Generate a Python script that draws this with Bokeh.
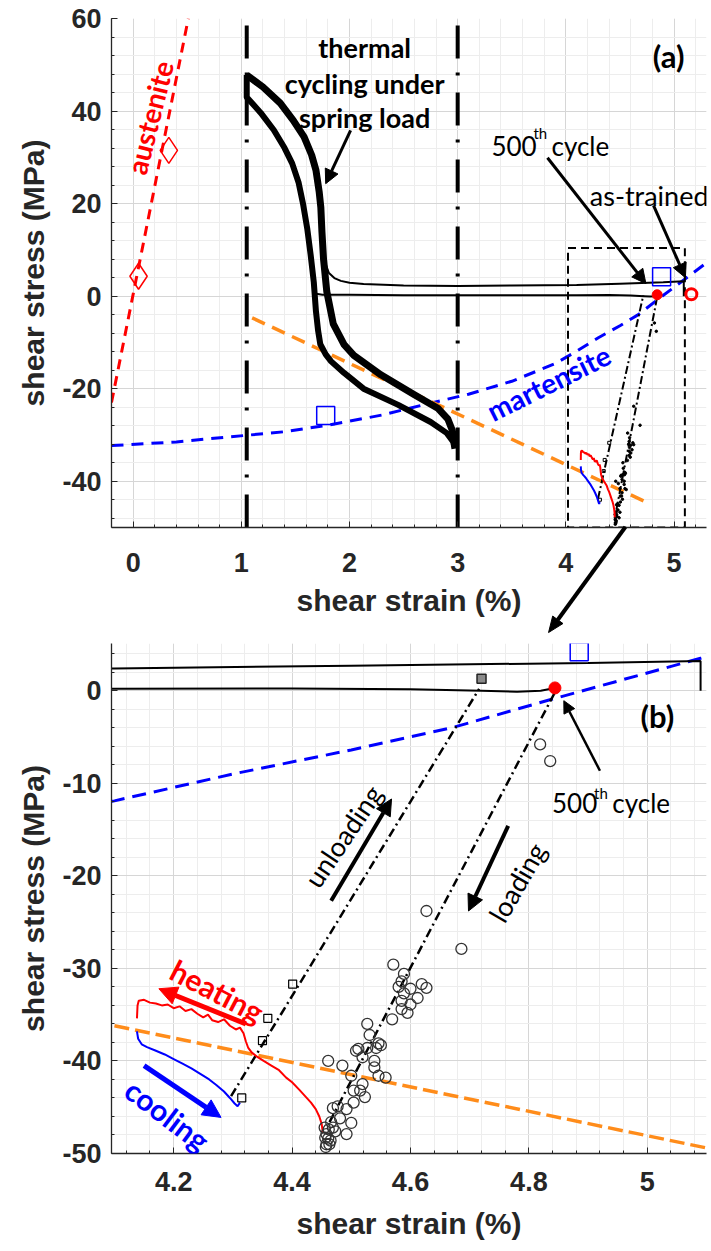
import numpy as np
from bokeh.plotting import figure
from bokeh.layouts import column
from bokeh.models import Range1d, FixedTicker, CustomJSTickFormatter, Label, Arrow, NormalHead
from bokeh.embed import file_html
from bokeh.resources import INLINE

# ---------------- data ----------------
# austenite elastic line and its two measured points
austenite_x = [-0.2, 0.51]
austenite_y = [-23.0, 60.0]
aus_pts_x = [0.05, 0.33]
aus_pts_y = [4.3, 31.5]

# martensite curve and its two measured points
martensite_x = [-0.2, 0.4, 0.9, 1.4, 1.8, 2.3, 2.7, 3.1, 3.5, 3.9, 4.1, 4.3, 4.5, 4.67, 4.84, 5.09, 5.3]
martensite_y = [-32.3, -31.5, -30.4, -29.3, -27.9, -25.7, -23.4, -21.2, -18.4, -14.6, -11.9, -9.0, -6.4, -4.0, -0.9, 3.5, 7.2]
mart_pts_x = [1.78, 4.885]
mart_pts_y = [-25.8, 4.2]

# spring load lines
spring_a_x = [1.1, 4.75]
spring_a_y = [-4.7, -44.6]
spring_b_x = [4.1, 5.1]
spring_b_y = [-36.2, -49.4]

# thermal cycling under spring load (hysteresis bands)
band_out_x = [1.05, 1.20, 1.36, 1.48, 1.58, 1.65, 1.69, 1.72, 1.735, 1.745, 1.76, 1.79, 1.85, 1.95, 2.04, 2.29, 2.60, 2.82, 2.91, 2.95, 2.97]
band_out_y = [47.8, 45.2, 41.7, 38.0, 34.4, 30.5, 27.2, 22.5, 19.2, 14.0, 8.0, 1.0, -6.0, -10.5, -12.8, -17.0, -21.3, -24.3, -26.6, -29.0, -32.0]
band_in_x = [1.05, 1.05, 1.18, 1.30, 1.40, 1.47, 1.53, 1.57, 1.61, 1.64, 1.67, 1.69, 1.71, 1.73, 1.78, 1.83, 1.95, 2.13, 2.45, 2.75, 2.90, 2.96, 2.97]
band_in_y = [47.8, 43.0, 39.6, 35.9, 32.0, 28.7, 24.5, 20.0, 14.5, 9.1, 3.0, -3.3, -7.5, -10.4, -12.6, -14.1, -16.6, -20.0, -23.5, -27.2, -29.6, -31.5, -33.0]

# free-recovery traces
upper_x = [1.74, 1.77, 1.81, 1.86, 1.92, 2.0, 2.13, 2.5, 3.0, 3.5, 4.1, 4.5, 4.9, 5.09, 5.09]
upper_y = [11.0, 7.5, 5.0, 3.9, 3.3, 2.9, 2.6, 2.3, 2.2, 2.3, 2.4, 2.7, 3.0, 3.2, 0.0]
lower_x = [1.69, 1.75, 2.0, 2.5, 3.0, 3.5, 4.1, 4.4, 4.6, 4.72, 4.78, 4.82, 4.844]
lower_y = [0.5, 0.3, 0.3, 0.2, 0.2, 0.2, 0.2, 0.25, 0.15, 0.0, -0.1, 0.0, 0.3]

# unloading / loading paths
unload_x = [4.297, 4.716]
unload_y = [-43.8, 0.2]
load_x = [4.843, 4.46]
load_y = [-0.3, -47.0]
unload_sq_x = [4.315, 4.350, 4.359, 4.401]
unload_sq_y = [-44.0, -37.8, -35.4, -31.7]
top_sq_x = [4.72]
top_sq_y = [1.3]
cycle500_x = [4.844]
cycle500_y = [0.3]
trained_x = [5.16]
trained_y = [0.4]

load_pts_x = [4.819, 4.836, 4.627, 4.686, 4.571, 4.589, 4.585, 4.600, 4.619, 4.627, 4.612, 4.589, 4.585, 4.600,
              4.585, 4.569, 4.527, 4.512, 4.527, 4.542, 4.546, 4.519, 4.539, 4.461, 4.485, 4.500, 4.539, 4.546,
              4.558, 4.519, 4.515, 4.523, 4.504, 4.504, 4.492, 4.477, 4.500, 4.469, 4.481, 4.492, 4.469, 4.458,
              4.458, 4.461, 4.473, 4.455, 4.456, 4.457, 4.462, 4.465, 4.463, 4.466, 4.508, 4.531, 4.550, 4.595, 4.580]
load_pts_y = [-5.8, -7.6, -23.8, -27.9, -29.6, -30.6, -31.4, -32.2, -31.7, -32.1, -33.2, -32.7, -33.5, -33.9,
              -34.4, -35.5, -36.0, -38.7, -38.6, -38.6, -38.1, -39.6, -40.0, -40.0, -40.5, -41.6, -40.7, -41.6,
              -41.8, -42.5, -43.2, -43.9, -43.2, -44.5, -45.2, -44.9, -46.7, -45.1, -46.2, -47.9, -47.2, -47.9,
              -49.0, -48.4, -47.6, -47.2, -48.3, -49.3, -47.4, -48.6, -49.0, -46.6, -38.9, -37.2, -38.3, -34.8, -32.0]

# heating / cooling traces
heat_x = [4.452, 4.450, 4.446, 4.440, 4.432, 4.422, 4.412, 4.400, 4.390, 4.378, 4.365, 4.352, 4.340, 4.332,
          4.326, 4.322, 4.318, 4.312, 4.305, 4.295, 4.285, 4.275, 4.265, 4.258, 4.250, 4.240, 4.230, 4.220,
          4.210, 4.200, 4.190, 4.180, 4.170, 4.160, 4.150, 4.141, 4.139, 4.138]
heat_y = [-47.8, -46.8, -46.0, -45.2, -44.5, -43.8, -43.1, -42.3, -41.8, -41.0, -40.5, -40.0, -39.5, -39.1,
          -38.6, -37.9, -37.0, -36.4, -36.6, -36.2, -35.5, -35.8, -35.6, -35.0, -35.3, -34.9, -34.4, -34.6,
          -34.1, -34.3, -33.9, -34.0, -33.8, -33.7, -33.4, -33.5, -34.0, -35.4]
cool_x = [4.138, 4.140, 4.146, 4.155, 4.170, 4.185, 4.200, 4.215, 4.230, 4.245, 4.260, 4.272, 4.285, 4.295, 4.303, 4.308, 4.312]
cool_y = [-36.8, -37.6, -38.2, -38.5, -38.9, -39.3, -39.8, -40.3, -40.8, -41.4, -42.0, -42.6, -43.3, -44.0, -44.6, -44.9, -44.5]

# zoom window and switching-strain guides
box_x = [4.02, 5.1]
box_y = [-50.0, 10.4]
guide_x = [1.05, 3.0]
guide_y = [-50.0, 59.0]

# link from the zoom window of (a) down to panel (b), in panel (a) units
link_x = [4.55, 3.84]
link_y = [-49.9, -72.7]

# axis ticks
xa_ticks = [0, 1, 2, 3, 4, 5]
ya_ticks = [-40, -20, 0, 20, 40, 60]
xb_ticks = [4.2, 4.4, 4.6, 4.8, 5.0]
yb_ticks = [-50, -40, -30, -20, -10, 0]

INK = "#262626"
NOTE_FONT = "Lato"

# panel (a) frame geometry (pixels) and ranges
A_XR, A_YR = (-0.2, 5.3), (-50.0, 60.0)
A_FW, A_FH = 595, 509


def plain_fmt():
    # plain hyphen for negatives, no trailing ".0"
    return CustomJSTickFormatter(code="return (Math.round(tick * 10) / 10).toString()")


def style(p, xt, xminor, yt, yminor):
    xtick = FixedTicker(ticks=xt, minor_ticks=xminor)
    ytick = FixedTicker(ticks=yt, minor_ticks=yminor)
    p.xaxis.ticker = xtick
    p.xgrid.ticker = xtick
    p.yaxis.ticker = ytick
    p.ygrid.ticker = ytick
    p.xaxis.formatter = plain_fmt()
    p.yaxis.formatter = plain_fmt()
    for ax in (p.xaxis[0], p.yaxis[0]):
        ax.axis_line_color = INK
        ax.axis_line_width = 1.3
        ax.major_tick_in = 6
        ax.major_tick_out = 0
        ax.minor_tick_in = 3
        ax.minor_tick_out = 0
        ax.major_tick_line_color = INK
        ax.minor_tick_line_color = INK
        ax.major_label_text_font = "Liberation Sans"
        ax.major_label_text_font_style = "bold"
        ax.major_label_text_font_size = "27px"
        ax.major_label_text_color = INK
        ax.axis_label_text_font = "Liberation Sans"
        ax.axis_label_text_font_style = "bold"
        ax.axis_label_text_font_size = "30px"
        ax.axis_label_text_color = INK
    p.yaxis.major_label_standoff = 10
    p.yaxis.axis_label_standoff = 9
    for g in (p.xgrid[0], p.ygrid[0]):
        g.grid_line_color = "#d6d6d6"
        g.minor_grid_line_color = "#ededed"
    p.outline_line_color = None
    p.background_fill_color = "white"
    p.border_fill_color = "white"


def note(p, x, y, text, size, color="black", style_="normal", angle=0.0,
         align="center", baseline="middle", font=NOTE_FONT):
    p.add_layout(Label(x=x, y=y, text=text, text_font=font, text_font_size=f"{size}px",
                       text_font_style=style_, text_color=color, angle=np.deg2rad(angle),
                       text_align=align, text_baseline=baseline))


def pointer(p, x0, y0, x1, y1, width, color="black", head=14):
    p.add_layout(Arrow(end=NormalHead(size=head, fill_color=color, line_color=color, line_width=1),
                       x_start=x0, y_start=y0, x_end=x1, y_end=y1,
                       line_color=color, line_width=width))


def head_outline(xs, ys, px_x, px_y, length=17.0, spread=22.0):
    """Outline of a thin shaft plus a triangular head at the end of (xs, ys),
    with the head sized in screen pixels."""
    dx = (xs[1] - xs[0]) * px_x
    dy = -(ys[1] - ys[0]) * px_y
    n = np.hypot(dx, dy)
    ux, uy = dx / n, dy / n
    bx, by = [], []
    for s in (spread, -spread):
        a = np.deg2rad(s)
        rx = ux * np.cos(a) - uy * np.sin(a)
        ry = ux * np.sin(a) + uy * np.cos(a)
        bx.append(xs[1] - length * rx / px_x)
        by.append(ys[1] + length * ry / px_y)
    back = length * np.cos(np.deg2rad(spread))
    cx = xs[1] - back * ux / px_x
    cy = ys[1] + back * uy / px_y
    ox = [xs[0], cx, bx[0], xs[1], bx[1], cx]
    oy = [ys[0], cy, by[0], ys[1], by[1], cy]
    return ox, oy, cx, cy


# ---------------- panel (a) ----------------
pa = figure(width=711, height=640, output_backend="svg", toolbar_location=None,
            x_range=Range1d(*A_XR), y_range=Range1d(*A_YR),
            min_border_left=111, min_border_right=5, min_border_top=18, min_border_bottom=113,
            x_axis_label="shear strain (%)", y_axis_label="shear stress (MPa)")
style(pa, xa_ticks, list(np.round(np.arange(-0.2, 5.31, 0.2), 2)),
      ya_ticks, list(range(-48, 61, 4)))
pa.xaxis.major_label_standoff = 25
pa.xaxis.axis_label_standoff = 9

pa.segment(x0=guide_x, y0=guide_y[0], x1=guide_x, y1=guide_y[1], line_color="black",
           line_width=4, line_dash="33 17 3 14")
pa.line(austenite_x, austenite_y, line_color="red", line_width=3, line_dash="10 7")
pa.line(martensite_x, martensite_y, line_color="blue", line_width=3, line_dash="12 8")
pa.line(spring_a_x, spring_a_y, line_color="#ff8c1a", line_width=3.5, line_dash="14 8")
pa.line(band_in_x, band_in_y, line_color="black", line_width=6, line_join="round")
pa.line(band_out_x, band_out_y, line_color="black", line_width=7, line_join="round")
pa.line(upper_x, upper_y, line_color="black", line_width=2)
pa.line(lower_x, lower_y, line_color="black", line_width=2)
pa.line(unload_x, unload_y, line_color="black", line_width=2, line_dash="8 3 2 3")
pa.line(load_x, load_y, line_color="black", line_width=2, line_dash="8 3 2 3")
pa.scatter(load_pts_x, load_pts_y, marker="circle", size=2.5, fill_color="black", line_color="black")
pa.scatter(unload_sq_x, unload_sq_y, marker="square", size=3, fill_color=None, line_color="black")
pa.line(heat_x, heat_y, line_color="red", line_width=2)
pa.line(cool_x, cool_y, line_color="blue", line_width=2)
pa.quad(left=box_x[0], right=box_x[1], bottom=box_y[0], top=box_y[1], fill_color=None,
        line_color="black", line_width=2, line_dash="8 5")
pa.scatter(aus_pts_x, aus_pts_y, marker="diamond", size=26, fill_color=None, line_color="red", line_width=1.5)
pa.scatter(mart_pts_x, mart_pts_y, marker="square", size=18, fill_color=None, line_color="blue", line_width=1.5)
pa.scatter(cycle500_x, cycle500_y, marker="circle", size=10, fill_color="red", line_color="red")
pa.scatter(trained_x, trained_y, marker="circle", size=11, fill_color=None, line_color="red", line_width=3)

# link arrow runs below the frame, so it is drawn on the overlay level
px_x = A_FW / (A_XR[1] - A_XR[0])
px_y = A_FH / (A_YR[1] - A_YR[0])
out_x, out_y, base_x, base_y = head_outline(link_x, link_y, px_x, px_y)
pa.line([link_x[0], base_x], [link_y[0], base_y], line_color="black", line_width=4, level="overlay")
pa.patch(out_x, out_y, fill_color="black", line_color="black", line_width=1, level="overlay")

note(pa, 0.152, 38.6, "austenite", 28, color="red", style_="bold", angle=76)
note(pa, 3.84, -18.7, "martensite", 28, color="blue", style_="bold", angle=26.5)
note(pa, 2.14, 53.8, "thermal", 27, style_="bold", baseline="alphabetic")
note(pa, 2.14, 45.9, "cycling under", 27, style_="bold", baseline="alphabetic")
note(pa, 2.14, 38.7, "spring load", 27, style_="bold", baseline="alphabetic")
note(pa, 3.312, 32.5, "500", 26, align="left", baseline="alphabetic")
note(pa, 3.700, 35.3, "th", 15, align="left", baseline="alphabetic")
note(pa, 3.867, 32.5, "cycle", 26, align="left", baseline="alphabetic")
note(pa, 4.221, 21.7, "as-trained", 27, align="left", baseline="alphabetic")
note(pa, 4.95, 51.8, "(a)", 31, style_="bold")

pointer(pa, 2.01, 35.8, 1.78, 24.3, 3)
pointer(pa, 3.83, 29.9, 4.74, 2.7, 3)
pointer(pa, 4.81, 19.6, 5.105, 4.0, 3)

# ---------------- panel (b) ----------------
pb = figure(width=711, height=611, output_backend="svg", toolbar_location=None,
            x_range=Range1d(4.095, 5.1), y_range=Range1d(-50, 5.1),
            min_border_left=111, min_border_right=5, min_border_top=3, min_border_bottom=98,
            x_axis_label="shear strain (%)", y_axis_label="shear stress (MPa)")
style(pb, xb_ticks, list(np.round(np.arange(4.12, 5.1, 0.04), 2)),
      yb_ticks, list(range(-50, 5, 2)))
pb.xaxis.major_label_standoff = 18
pb.xaxis.axis_label_standoff = 13

pb.line(martensite_x, martensite_y, line_color="blue", line_width=3, line_dash="14 8")
pb.line(spring_b_x, spring_b_y, line_color="#ff8c1a", line_width=3.5, line_dash="15 6")
pb.line(upper_x, upper_y, line_color="black", line_width=2)
pb.line(lower_x, lower_y, line_color="black", line_width=2)
pb.line(unload_x, unload_y, line_color="black", line_width=2.5, line_dash="9 4 2 4")
pb.line(load_x, load_y, line_color="black", line_width=2.5, line_dash="9 4 2 4")
pb.line(heat_x, heat_y, line_color="red", line_width=2)
pb.line(cool_x, cool_y, line_color="blue", line_width=2)
pb.scatter(load_pts_x, load_pts_y, marker="circle", size=11, fill_color=None, line_color="#333333", line_width=1.3)
pb.scatter(unload_sq_x, unload_sq_y, marker="square", size=8, fill_color=None, line_color="black", line_width=1.2)
pb.scatter(top_sq_x, top_sq_y, marker="square", size=9, fill_color="#8a8a8a", line_color="#222222", line_width=1.5)
pb.scatter(mart_pts_x, mart_pts_y, marker="square", size=18, fill_color=None, line_color="blue", line_width=1.5)
pb.scatter(cycle500_x, cycle500_y, marker="circle", size=12, fill_color="red", line_color="red")

note(pb, 4.839, -12.1, "500", 26, align="left", baseline="alphabetic")
note(pb, 4.910, -11.0, "th", 15, align="left", baseline="alphabetic")
note(pb, 4.941, -12.1, "cycle", 26, align="left", baseline="alphabetic")
note(pb, 5.017, -2.7, "(b)", 31, style_="bold")
note(pb, 4.486, -15.7, "unloading", 27, angle=56)
note(pb, 4.78, -20.7, "loading", 27, angle=60)
note(pb, 4.274, -32.4, "heating", 30, color="red", style_="bold", angle=-27.5)
note(pb, 4.19, -45.8, "cooling", 30, color="blue", style_="bold", angle=-37)

pointer(pb, 4.92, -8.65, 4.859, -1.08, 2.5, head=12)
pointer(pb, 4.466, -22.7, 4.568, -11.7, 4, head=16)
pointer(pb, 4.765, -14.6, 4.698, -23.8, 4, head=16)
pointer(pb, 4.322, -36.0, 4.175, -32.2, 5, color="red", head=18)
pointer(pb, 4.15, -40.5, 4.28, -46.1, 5, color="blue", head=18)

layout = column(pa, pb, spacing=0)
open("out.html", "w").write(file_html(layout, INLINE))
